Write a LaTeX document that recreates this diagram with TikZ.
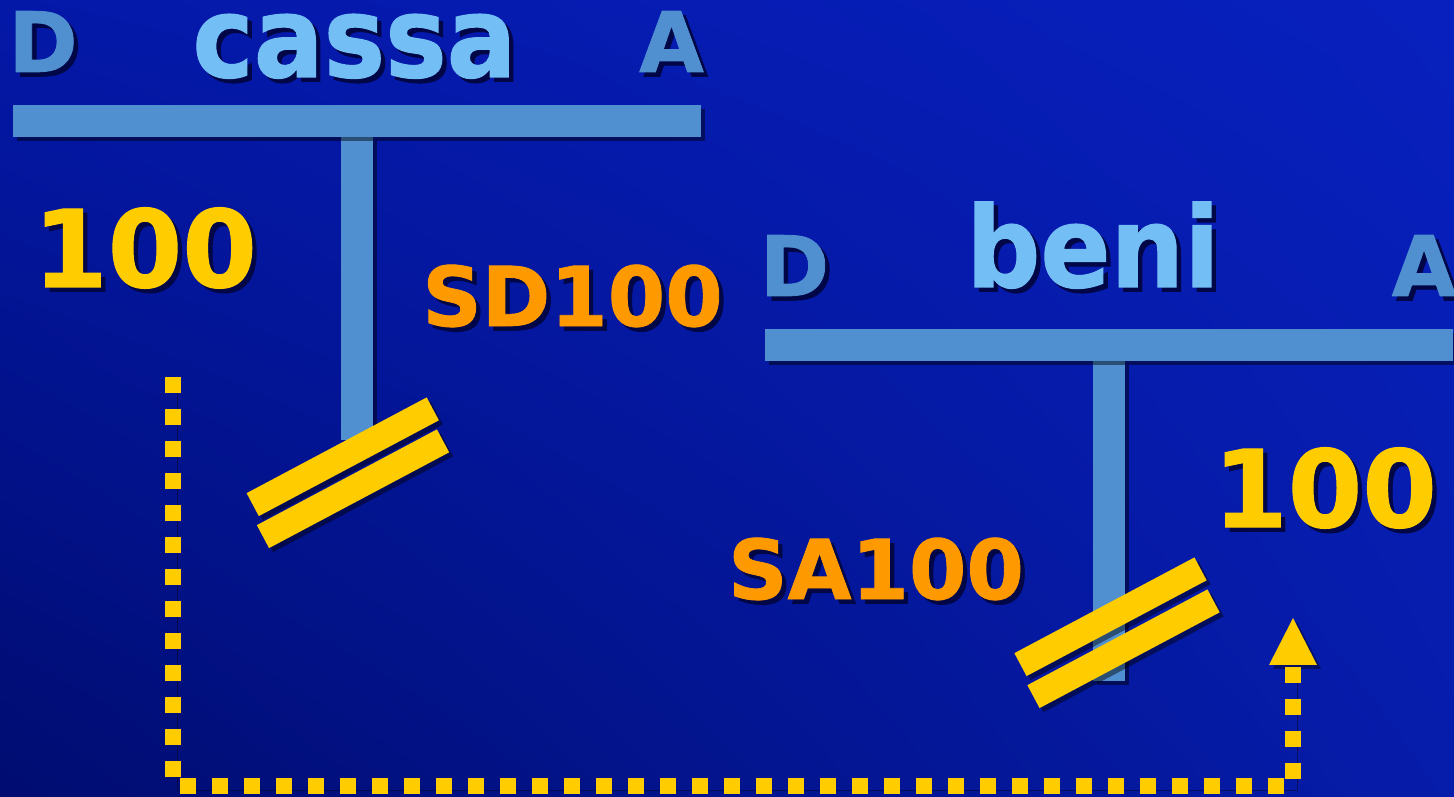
\documentclass[tikz,border=0pt]{standalone}
\usepackage{fontspec}
\setmainfont{DejaVu Sans}[BoldFeatures={FakeBold=1.0}]
\newfontfamily\titlefont{DejaVu Sans}[FakeStretch=0.92, BoldFeatures={FakeBold=1.0}]
\usetikzlibrary{arrows.meta,shadings}

\definecolor{bgul}{RGB}{4,24,168}
\definecolor{bgur}{RGB}{8,32,190}
\definecolor{bgll}{RGB}{0,12,112}
\definecolor{bglr}{RGB}{6,28,170}
\definecolor{titleblue}{RGB}{115,190,245}
\definecolor{barblue}{RGB}{80,144,208}
\definecolor{sumyellow}{RGB}{255,204,0}
\definecolor{saldoorange}{RGB}{255,153,0}
\definecolor{shadowcol}{RGB}{0,6,70}

\newcommand{\shtext}[1]{\rlap{\kern2.5pt\raisebox{-2.5pt}{\color{shadowcol}#1}}#1}

\tikzset{
    shadowed/.style={preaction={fill=black, opacity=0.45, transform canvas={shift={(0.08cm,-0.08cm)}}}},
    account/.style={anchor=base, inner sep=0pt, text=titleblue, font=\titlefont\bfseries\fontsize{64}{70}\selectfont},
    side/.style={anchor=base, inner sep=0pt, text=barblue, font=\bfseries\fontsize{47.5}{52}\selectfont},
    amount/.style={anchor=base, inner sep=0pt, text=sumyellow, font=\bfseries\fontsize{61}{66}\selectfont},
    saldo/.style={anchor=base, inner sep=0pt, text=saldoorange, font=\bfseries\fontsize{47}{52}\selectfont},
    closing/.style={shadowed, fill=sumyellow, minimum width=4.08cm, minimum height=0.52cm, inner sep=0pt, rotate=28},
    flow/.style={draw=sumyellow, line width=0.32cm, dash pattern=on 0.32cm off 0.32cm,
        preaction={draw=black, opacity=0.4, transform canvas={shift={(0.08cm,-0.08cm)}}},
        -{Triangle[length=0.94cm, width=0.96cm, line width=0pt]}},
}

\begin{document}
\begin{tikzpicture}[x=0.02cm, y=-0.02cm]
    \useasboundingbox (0,0) rectangle (1454,797);

    % Background
    \shade[upper left=bgul, upper right=bgur, lower left=bgll, lower right=bglr] (0,0) rectangle (1454,797);

    % T account: cassa
    \fill[barblue, shadowed] (341,137) rectangle (373,440);
    \fill[barblue, shadowed] (13,105) rectangle (701,137);
    \node[side] (cassaD) at (43,72) {\shtext{D}};
    \node[account] (cassa) at (354.5,77) {\shtext{cassa}};
    \node[side] (cassaA) at (671.5,72) {\shtext{A}};
    \node[amount] (cassaamount) at (145,287) {\shtext{100}};
    \node[saldo] (cassasaldo) at (572.5,326) {\shtext{SD100}};
    \node[closing] (cassaeq1) at (342.75,456.75) {};
    \node[closing] (cassaeq2) at (353,488.75) {};

    % T account: beni
    \fill[barblue, shadowed] (1093,361) rectangle (1125,681);
    \fill[barblue, shadowed] (765,329) rectangle (1453,361);
    \node[side] (beniD) at (794.5,296) {\shtext{D}};
    \node[account] (beni) at (1093,287) {\shtext{beni}};
    \node[side] (beniA) at (1424,296) {\shtext{A}};
    \node[saldo] (benisaldo) at (876,599) {\shtext{SA100}};
    \node[amount] (beniamount) at (1325,527) {\shtext{100}};
    \node[closing] (benieq1) at (1110.5,616.75) {};
    \node[closing] (benieq2) at (1123.5,648.75) {};

    % Transfer from cassa to beni
    \coordinate (flowstart) at (173,377);
    \coordinate (flowcorner) at (173,786);
    \coordinate (flowend) at (1293,618);
    \draw[flow] (flowstart) -- (flowcorner) -| (flowend);

\end{tikzpicture}
\end{document}
